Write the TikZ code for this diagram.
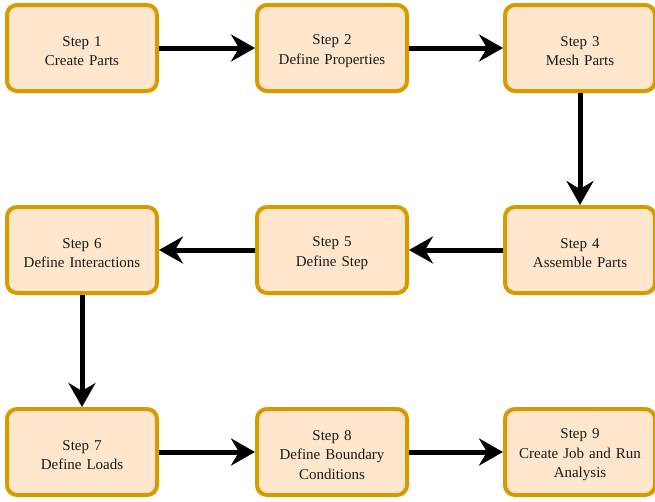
\documentclass[tikz,border=0pt]{standalone}
\usepackage{fontspec}
\setmainfont{Liberation Serif}
\usetikzlibrary{arrows.meta}
\definecolor{boxfill}{HTML}{FFE6CC}
\definecolor{boxdraw}{HTML}{D79B00}
\definecolor{txt}{HTML}{1A1A1A}
\begin{document}
\begin{tikzpicture}[x=1pt,y=-1pt,
  stepbox/.style={draw=boxdraw, fill=boxfill, line width=4pt, rounded corners=10pt,
    minimum width=150pt, minimum height=86pt, align=center, text width=146pt,
    text=txt, font=\fontsize{15pt}{19.5pt}\selectfont, inner sep=0pt,
    execute at begin node={\rule{0pt}{16pt}}},
  flow/.style={line width=5pt, -{Stealth[length=24pt,width=27pt,inset=8pt]}}]
\useasboundingbox (0,0) rectangle (655,501);
\node[stepbox] (s1) at (82,48) {Step 1\\Create Parts};
\node[stepbox] (s2) at (332,48) {Step 2\\Define Properties};
\node[stepbox] (s3) at (580,48) {Step 3\\Mesh Parts};
\node[stepbox] (s4) at (580,250) {Step 4\\Assemble Parts};
\node[stepbox] (s5) at (332,250) {Step 5\\Define Step};
\node[stepbox] (s6) at (82,250) {Step 6\\Define Interactions};
\node[stepbox] (s7) at (82,452) {Step 7\\Define Loads};
\node[stepbox] (s8) at (332,452) {Step 8\\Define Boundary\\Conditions};
\node[stepbox] (s9) at (580,452) {Step 9\\Create Job and Run\\Analysis};
\draw[flow] (s1) -- (s2);
\draw[flow] (s2) -- (s3);
\draw[flow] (s3) -- (s4);
\draw[flow] (s4) -- (s5);
\draw[flow] (s5) -- (s6);
\draw[flow] (s6) -- (s7);
\draw[flow] (s7) -- (s8);
\draw[flow] (s8) -- (s9);
\end{tikzpicture}
\end{document}
